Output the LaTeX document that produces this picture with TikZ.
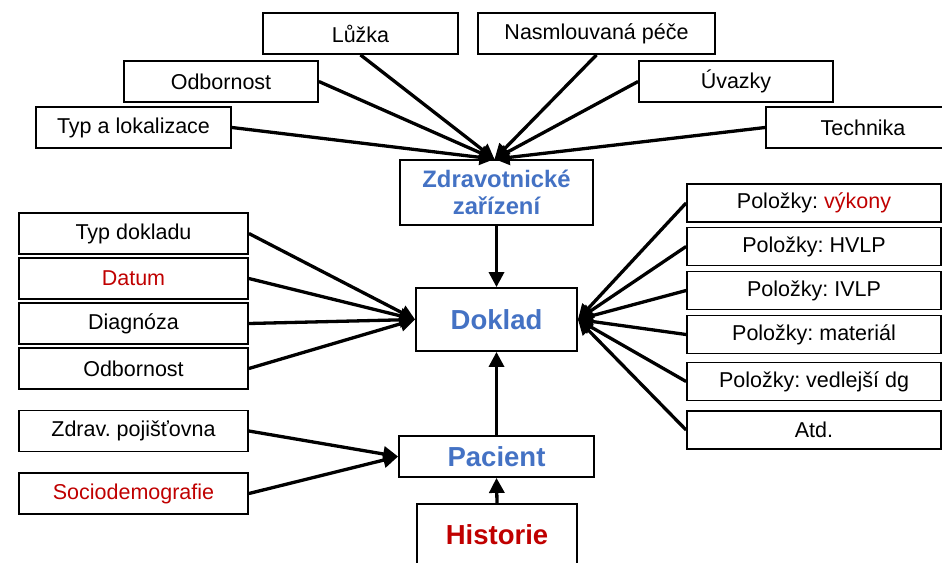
\documentclass[tikz,border=0pt]{standalone}
\usepackage{fontspec}
\setmainfont{Liberation Sans}
\usetikzlibrary{arrows.meta}
\definecolor{hblue}{HTML}{4472C4}
\definecolor{hred}{HTML}{C00000}
\tikzset{
  box/.style={draw, line width=1.8pt, inner sep=0pt, minimum height=41pt, font=\fontsize{21.5}{24}\selectfont\frenchspacing},
  bigbox/.style={draw, line width=1.8pt, inner sep=0pt, text=hblue, font=\fontsize{27.5}{30}\selectfont\bfseries},
  rbox/.style={box, minimum width=254pt, minimum height=38pt},
  lbox/.style={box, minimum width=229pt},
  arr/.style={line width=3.3pt, -{Triangle[length=15pt,width=15pt]}},
}
\begin{document}
\begin{tikzpicture}[x=1pt,y=-1pt]
\useasboundingbox (0,0) rectangle (942,562);
\fill[white] (0,0) rectangle (942,562);
% top boxes
\node[box, minimum width=195pt] (luz) at (360.5,33.5) {Lůžka};
\node[box, minimum width=237pt] (nas) at (596.5,33.5) {Nasmlouvaná péče};
\node[box, minimum width=194pt] (odb1) at (221,81.5) {Odbornost};
\node[box, minimum width=194pt] (uva) at (736,81.5) {Úvazky};
\node[box, minimum width=195pt] (typ) at (133.5,127.5) {Typ a lokalizace};
\node[box, minimum width=194pt] (tech) at (863,127.5) {Technika};
% center column
\node[bigbox, minimum width=193pt, minimum height=65pt, align=center, font=\fontsize{23.8}{26.5}\selectfont\bfseries] (zdr) at (496.5,192.5) {Zdravotnické\\zařízení};
\node[bigbox, minimum width=161pt, minimum height=63pt] (dok) at (496.5,319.5) {Doklad};
\node[bigbox, minimum width=195pt, minimum height=41pt] (pac) at (496.5,456.5) {Pacient};
\node[bigbox, minimum width=160pt, minimum height=62pt, text=hred] (his) at (497,535) {Historie};
% left boxes
\node[lbox] (typd) at (133.5,233.5) {Typ dokladu};
\node[lbox, text=hred] (dat) at (133.5,278.5) {Datum};
\node[lbox] (diag) at (133.5,323.5) {Diagnóza};
\node[lbox] (odb2) at (133.5,368.5) {Odbornost};
\node[lbox] (zp) at (133.5,431) {Zdrav. pojišťovna};
\node[lbox, text=hred] (soc) at (133.5,493.5) {Sociodemografie};
% right boxes
\node[rbox] (vyk) at (814,203) {Položky: \textcolor{hred}{výkony}};
\node[rbox] (hvlp) at (814,246.5) {Položky: HVLP};
\node[rbox] (ivlp) at (814,290.5) {Položky: IVLP};
\node[rbox] (mat) at (814,334.5) {Položky: materiál};
\node[rbox] (ved) at (814,381.5) {Položky: vedlejší dg};
\node[rbox] (atd) at (814,430) {Atd.};
% connectors to Zdravotnické zařízení
\coordinate (zt) at ([xshift=-2pt]zdr.north);
\draw[arr] (luz.south) -- (zt);
\draw[arr] (odb1.east) -- (zt);
\draw[arr] (typ.east) -- (zt);
\draw[arr] (nas.south) -- (zt);
\draw[arr] (uva.west) -- (zt);
\draw[arr] (tech.west) -- (zt);
% center column
\draw[arr] (zdr.south) -- (dok.north);
\draw[arr] (pac.north) -- (dok.south);
\draw[arr] (his.north) -- (pac.south);
% left to Doklad
\draw[arr] (typd.east) -- (dok.west);
\draw[arr] (dat.east) -- (dok.west);
\draw[arr] (diag.east) -- (dok.west);
\draw[arr] (odb2.east) -- (dok.west);
% right to Doklad
\draw[arr] (vyk.west) -- (dok.east);
\draw[arr] (hvlp.west) -- (dok.east);
\draw[arr] (ivlp.west) -- (dok.east);
\draw[arr] (mat.west) -- (dok.east);
\draw[arr] (ved.west) -- (dok.east);
\draw[arr] (atd.west) -- (dok.east);
% to Pacient
\draw[arr] (zp.east) -- (pac.west);
\draw[arr] (soc.east) -- (pac.west);
\end{tikzpicture}
\end{document}
